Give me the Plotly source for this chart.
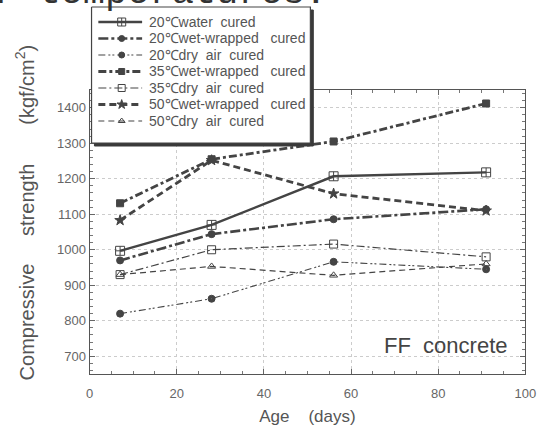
import plotly.graph_objects as go

ages = [7, 28, 56, 91]
names = [
    "20℃water\u00a0\u00a0cured",
    "20℃wet-wrapped\u00a0\u00a0\u00a0cured",
    "20℃dry\u00a0\u00a0air\u00a0\u00a0cured",
    "35℃wet-wrapped\u00a0\u00a0\u00a0cured",
    "35℃dry\u00a0\u00a0air\u00a0\u00a0cured",
    "50℃wet-wrapped\u00a0\u00a0\u00a0cured",
    "50℃dry\u00a0\u00a0air\u00a0\u00a0cured",
]
water_20 = [997, 1070, 1207, 1218]
wet_20 = [970, 1044, 1086, 1114]
dry_20 = [820, 862, 966, 945]
wet_35 = [1131, 1255, 1305, 1412]
dry_35 = [930, 1000, 1016, 980]
wet_50 = [1083, 1252, 1158, 1110]
dry_50 = [930, 953, 928, 960]

series = [water_20, wet_20, dry_20, wet_35, dry_35, wet_50, dry_50]
styles = [
    dict(dash="solid", width=2.4, symbol="square-cross-open", size=9),
    dict(dash="10px,3px,3px,3px", width=2.6, symbol="circle", size=7),
    dict(dash="7px,3px,2px,2px,2px,3px", width=1.1, symbol="circle-dot", size=7),
    dict(dash="8px,3px,3px,3px", width=2.8, symbol="square", size=7),
    dict(dash="8px,3px,2px,3px", width=1.2, symbol="square-open", size=8),
    dict(dash="7px,4px", width=2.8, symbol="star", size=8),
    dict(dash="6px,4px", width=1.2, symbol="triangle-up-open", size=7),
]

W, H = 548, 427
FONT = "Liberation Sans, Arial, sans-serif"
INK = "#444444"

fig = go.Figure()
for name, vals, st in zip(names, series, styles):
    fig.add_trace(go.Scatter(
        x=ages, y=vals, name=name, mode="lines+markers", showlegend=False,
        line=dict(color=INK, width=st["width"], dash=st["dash"]),
        marker=dict(symbol=st["symbol"], size=st["size"], color=INK,
                    line=dict(color=INK, width=1)),
    ))

# ---- hand-drawn legend on a pixel-space overlay subplot ----
box = dict(x0=90, x1=315, y0=7, y1=143)
sh = 3
fig.add_trace(go.Scatter(
    x=[box["x0"] + sh, box["x1"] + sh, box["x1"] + sh, box["x0"] + sh, box["x0"] + sh],
    y=[box["y0"] + sh, box["y0"] + sh, box["y1"] + sh, box["y1"] + sh, box["y0"] + sh],
    xaxis="x2", yaxis="y2", mode="lines", fill="toself", fillcolor="#3a3a3a",
    line=dict(color="#3a3a3a", width=1), hoverinfo="skip", showlegend=False))
fig.add_trace(go.Scatter(
    x=[box["x0"], box["x1"], box["x1"], box["x0"], box["x0"]],
    y=[box["y0"], box["y0"], box["y1"], box["y1"], box["y0"]],
    xaxis="x2", yaxis="y2", mode="lines", fill="toself", fillcolor="white",
    line=dict(color=INK, width=1.2), hoverinfo="skip", showlegend=False))

row0, row_gap = 22, 16.5
for i, (name, st) in enumerate(zip(names, styles)):
    ry = row0 + i * row_gap
    fig.add_trace(go.Scatter(
        x=[97, 142], y=[ry, ry], xaxis="x2", yaxis="y2", mode="lines",
        line=dict(color=INK, width=st["width"], dash=st["dash"]),
        hoverinfo="skip", showlegend=False))
    fig.add_trace(go.Scatter(
        x=[121], y=[ry], xaxis="x2", yaxis="y2", mode="markers",
        marker=dict(symbol=st["symbol"], size=st["size"] - 1, color=INK,
                    line=dict(color=INK, width=1)),
        hoverinfo="skip", showlegend=False))
    fig.add_annotation(x=147 / W, y=1 - ry / H, xref="paper", yref="paper",
                       xanchor="left", yanchor="middle", text=name, showarrow=False,
                       font=dict(family=FONT, size=14, color="#555555"))

axis_common = dict(
    showline=True, linecolor="#555555", linewidth=1, mirror="allticks",
    ticks="inside", ticklen=5, tickcolor="#666666",
    showgrid=True, gridcolor="#cccccc", griddash="dot", gridwidth=1,
    zeroline=False,
    tickfont=dict(family=FONT, size=13, color="#666666"),
)

fig.update_layout(
    xaxis=dict(domain=[88 / W, 536 / W], range=[0, 100], dtick=20, ticklabelstandoff=7,
               minor=dict(ticks="inside", ticklen=3, dtick=5, tickcolor="#777777", showgrid=False),
               title=dict(text="Age\u00a0\u00a0\u00a0\u00a0(days)", standoff=10,
                          font=dict(family=FONT, size=17, color="#555555")),
               **axis_common),
    yaxis=dict(domain=[53 / H, 337 / H], range=[650, 1450], dtick=100,
               minor=dict(ticks="inside", ticklen=3, dtick=20, tickcolor="#777777", showgrid=False),
               **axis_common),
    xaxis2=dict(domain=[0, 1], range=[0, W], visible=False, fixedrange=True, anchor="y2"),
    yaxis2=dict(domain=[0, 1], range=[H, 0], visible=False, fixedrange=True, anchor="x2"),
    width=W, height=H,
    margin=dict(l=0, r=0, t=0, b=0),
    plot_bgcolor="rgba(0,0,0,0)", paper_bgcolor="white",
    showlegend=False,
)

# y-axis title as a rotated annotation for exact placement
fig.add_annotation(x=21 / W, y=1 - 212 / H, xref="paper", yref="paper",
                   xanchor="center", yanchor="middle", textangle=-90, showarrow=False,
                   text="Compressive" + "\u00a0" * 5 + "strength" + "\u00a0" * 7 + "(kgf/cm<sup>2</sup>)",
                   font=dict(family=FONT, size=20, color="#555555"))

fig.add_annotation(x=81.6, y=730, xref="x", yref="y", text="FF\u00a0\u00a0concrete", showarrow=False,
                   font=dict(family=FONT, size=22, color=INK))

# partially cropped caption at the very top
fig.add_annotation(x=-12 / W, y=1 + 7 / H, xref="paper", yref="paper",
                   xanchor="left", yanchor="middle",
                   text="r\u00a0temperatures.", showarrow=False,
                   font=dict(family="Liberation Mono, Courier New, monospace", size=37, color="#333333"))

fig.write_html("out.html")
